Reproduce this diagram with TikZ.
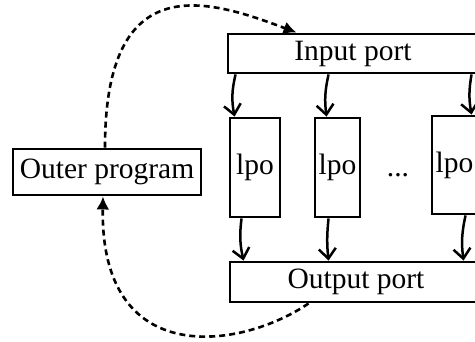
\documentclass[tikz,border=0pt]{standalone}
\usepackage{fontspec}
\setmainfont{Liberation Serif}
\usetikzlibrary{arrows.meta}
\begin{document}
\begin{tikzpicture}[x=1pt,y=-1pt,
  box/.style={draw,line width=2.9pt,inner sep=0pt,font=\fontsize{29.5}{32}\selectfont},
  flow/.style={line width=2.5pt,-{Straight Barb[length=10pt,width=17pt,line width=2.5pt]}},
  ctrl/.style={line width=2.6pt,dash pattern=on 6pt off 4pt,-{Latex[length=13pt,width=13pt]}}]
\clip (0,0) rectangle (475,341);

% ports and the outer program
\node[box,minimum width=250pt,minimum height=39pt] (in) at (353,53.5) {Input port};
\node[box,minimum width=252pt,minimum height=40pt] (out) at (356,282) {Output port};
\node[box,minimum width=188pt,minimum height=46pt] (outer) at (107,172) {Outer program};

% parallel lpo instances
\node[box,minimum width=50pt,minimum height=99pt] (lpo1) at (255,167.5) {lpo};
\node[box,minimum width=45pt,minimum height=99pt] (lpo2) at (337.5,167.5) {lpo};
\node[box,minimum width=45pt,minimum height=98pt] (lpo3) at (454.5,165) {lpo};
\node[font=\fontsize{29.5}{32}\selectfont] (dots) at (398,175) {...};

% input port feeds each lpo
\draw[flow] ([xshift=9pt]in.south west) to[bend right=12] ([xshift=6pt]lpo1.north west);
\draw[flow] ([xshift=102pt]in.south west) to[bend right=10] ([xshift=13pt]lpo2.north west);
\draw[flow] ([xshift=245pt]in.south west) to[bend right=10] ([xshift=41pt]lpo3.north west);

% each lpo feeds the output port
\draw[flow] ([xshift=13pt]lpo1.south west) to[bend right=10] ([xshift=15pt]out.north west);
\draw[flow] ([xshift=15pt]lpo2.south west) to[bend right=6] ([xshift=100pt]out.north west);
\draw[flow] ([xshift=35pt]lpo3.south west) to[bend right=10] ([xshift=235pt]out.north west);

% control loop through the outer program
\draw[ctrl] ([xshift=-2pt]outer.north) .. controls (105,-35) and (210,0) .. ([xshift=70pt]in.north west);
\draw[ctrl] ([xshift=80pt]out.south west) .. controls (240,350) and (100,370) .. ([xshift=-4pt]outer.south);
\end{tikzpicture}
\end{document}
